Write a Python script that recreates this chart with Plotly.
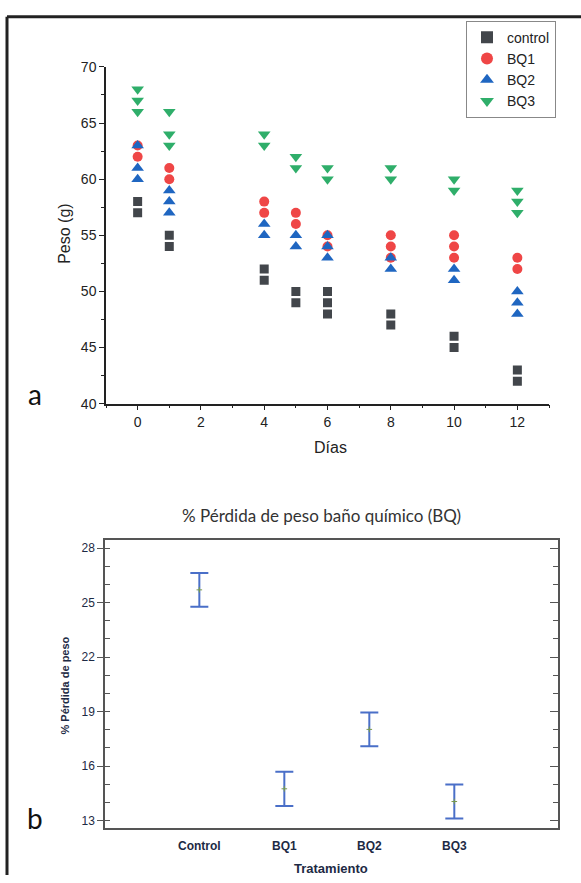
import plotly.graph_objects as go

# ---------------- Data: panel a (Peso vs Días) ----------------
control_days = [0, 0, 1, 1, 4, 4, 5, 5, 6, 6, 6, 8, 8, 10, 10, 12, 12]
control_peso = [58, 57, 55, 54, 52, 51, 50, 49, 50, 49, 48, 48, 47, 46, 45, 43, 42]

bq1_days = [0, 0, 1, 1, 4, 4, 5, 5, 6, 6, 8, 8, 8, 10, 10, 10, 12, 12]
bq1_peso = [63, 62, 61, 60, 58, 57, 57, 56, 55, 54, 55, 54, 53, 55, 54, 53, 53, 52]

bq2_days = [0, 0, 0, 1, 1, 1, 4, 4, 5, 5, 6, 6, 6, 8, 8, 10, 10, 12, 12, 12]
bq2_peso = [63, 61, 60, 59, 58, 57, 56, 55, 55, 54, 55, 54, 53, 53, 52, 52, 51, 50, 49, 48]

bq3_days = [0, 0, 0, 1, 1, 1, 4, 4, 5, 5, 6, 6, 8, 8, 10, 10, 12, 12, 12]
bq3_peso = [68, 67, 66, 66, 64, 63, 64, 63, 62, 61, 61, 60, 61, 60, 60, 59, 59, 58, 57]

x_ticks_a = [0, 2, 4, 6, 8, 10, 12]
y_ticks_a = [40, 45, 50, 55, 60, 65, 70]

# ---------------- Data: panel b (% pérdida de peso) ----------------
tratamientos = ["Control", "BQ1", "BQ2", "BQ3"]
perdida_media = [25.7, 14.75, 18.02, 14.05]
perdida_error = [0.93, 0.94, 0.93, 0.94]
y_ticks_b = [13, 16, 19, 22, 25, 28]

W, H = 581, 883
ARIAL = "Liberation Sans"
LATO = "Lato"

fig = go.Figure()

series = [
    ("control", control_days, control_peso, "square", "#42464b", 9),
    ("BQ1", bq1_days, bq1_peso, "circle", "#ef4646", 10),
    ("BQ2", bq2_days, bq2_peso, "triangle-up", "#1f66c1", 11),
    ("BQ3", bq3_days, bq3_peso, "triangle-down", "#2fae6a", 11),
]
for name, xs, ys, sym, col, sz in series:
    fig.add_trace(go.Scatter(
        x=xs, y=ys, mode="markers", name=name,
        marker=dict(symbol=sym, color=col, size=sz, line=dict(width=0)),
        xaxis="x", yaxis="y",
    ))

# Panel b
fig.add_trace(go.Scatter(
    x=tratamientos, y=perdida_media, mode="markers", showlegend=False,
    marker=dict(symbol="cross-thin", size=4, color="#7a9a4a",
                line=dict(width=1, color="#7a9a4a")),
    error_y=dict(type="data", array=perdida_error, visible=True,
                 color="#4a6fc8", thickness=2, width=9),
    xaxis="x2", yaxis="y2",
))
# right mirror axis for panel b (inward ticks)
fig.add_trace(go.Scatter(x=[None], y=[None], showlegend=False, hoverinfo="skip",
                         xaxis="x2", yaxis="y3"))

ax_font = dict(family=ARIAL, size=14, color="#222222")
bfont = dict(family=ARIAL, size=12, color="#1d2a44")

fig.update_layout(
    width=W, height=H,
    margin=dict(l=0, r=0, t=0, b=0),
    paper_bgcolor="white", plot_bgcolor="white",
    showlegend=True,
    legend=dict(
        x=466 / W, y=1 - 13 / H, xanchor="left", yanchor="top",
        bordercolor="#888888", borderwidth=1, bgcolor="white",
        font=dict(family=ARIAL, size=14, color="#222222"),
        itemsizing="constant", tracegroupgap=0, itemwidth=30,
    ),
    xaxis=dict(
        domain=[106 / W, 549 / W], anchor="y", range=[-1, 13],
        tickmode="array", tickvals=x_ticks_a,
        showline=True, linecolor="#222222", linewidth=1.5,
        ticks="outside", ticklen=5, tickwidth=1.2, tickcolor="#222222",
        minor=dict(dtick=1, ticks="outside", ticklen=3, tickwidth=1, tickcolor="#222222"),
        showgrid=False, zeroline=False, tickfont=ax_font,
    ),
    yaxis=dict(
        domain=[1 - 403 / H, 1 - 60 / H], anchor="x", range=[40, 70],
        tickmode="array", tickvals=y_ticks_a,
        showline=True, linecolor="#222222", linewidth=1.5,
        ticks="outside", ticklen=5, tickwidth=1.2, tickcolor="#222222",
        minor=dict(dtick=2.5, ticks="outside", ticklen=3, tickwidth=1, tickcolor="#222222"),
        showgrid=False, zeroline=False, tickfont=ax_font,
    ),
    xaxis2=dict(
        domain=[105 / W, 558 / W], anchor="y2", type="category",
        range=[-1.11, 4.22],
        showline=True, mirror=True, linecolor="#555555", linewidth=1.5,
        ticks="", showgrid=False, zeroline=False,
        tickfont=bfont, ticklabelstandoff=6,
        tickprefix="<b>", ticksuffix="</b>",
    ),
    yaxis2=dict(
        domain=[1 - 835 / H, 1 - 541.7 / H], anchor="x2", range=[12.6, 28.45],
        tickmode="array", tickvals=y_ticks_b,
        showline=True, linecolor="#555555", linewidth=1.5,
        ticks="outside", ticklen=6, tickwidth=1.2, tickcolor="#555555",
        minor=dict(dtick=1, tick0=13, ticks="inside", ticklen=5, tickwidth=1, tickcolor="#555555"),
        showgrid=False, zeroline=False, tickfont=bfont,
        tickprefix="<b>", ticksuffix="</b>",
    ),
    yaxis3=dict(
        overlaying="y2", side="right", anchor="x2", range=[12.6, 28.45],
        tickmode="array", tickvals=y_ticks_b, showticklabels=False,
        showline=True, linecolor="#555555", linewidth=1.5,
        ticks="inside", ticklen=8, tickwidth=1.2, tickcolor="#555555",
        minor=dict(dtick=1, tick0=13, ticks="inside", ticklen=5, tickwidth=1, tickcolor="#555555"),
        showgrid=False, zeroline=False,
    ),
)

annotations = [
    dict(text="Peso (g)", x=65 / W, y=1 - 230 / H, textangle=-90,
         font=dict(family=ARIAL, size=16, color="#222222")),
    dict(text="Días", x=330 / W, y=1 - 448 / H,
         font=dict(family=ARIAL, size=16, color="#222222")),
    dict(text="a", x=35 / W, y=1 - 393 / H,
         font=dict(family=LATO, size=28, color="#111111")),
    dict(text="b", x=35 / W, y=1 - 825 / H,
         font=dict(family=LATO, size=28, color="#111111")),
    dict(text="% Pérdida de peso baño químico (BQ)", x=321 / W, y=1 - 517 / H,
         font=dict(family=LATO, size=17, color="#333333")),
    dict(text="<b>% Pérdida de peso</b>", x=65 / W, y=1 - 690 / H, textangle=-90,
         font=dict(family=ARIAL, size=11, color="#1d2a44")),
    dict(text="<b>Tratamiento</b>", x=331 / W, y=1 - 876 / H,
         font=dict(family=ARIAL, size=13, color="#1d2a44")),
]
for a in annotations:
    a.update(xref="paper", yref="paper", showarrow=False, xanchor="center", yanchor="middle")
fig.update_layout(annotations=annotations)

# outer frame (left and top edges)
fig.add_shape(type="line", xref="paper", yref="paper",
              x0=7 / W, x1=7 / W, y0=0, y1=1 - 9 / H, line=dict(color="#222222", width=3))
fig.add_shape(type="line", xref="paper", yref="paper",
              x0=7 / W, x1=1, y0=1 - 9 / H, y1=1 - 9 / H, line=dict(color="#222222", width=3))

fig.write_html("out.html")
